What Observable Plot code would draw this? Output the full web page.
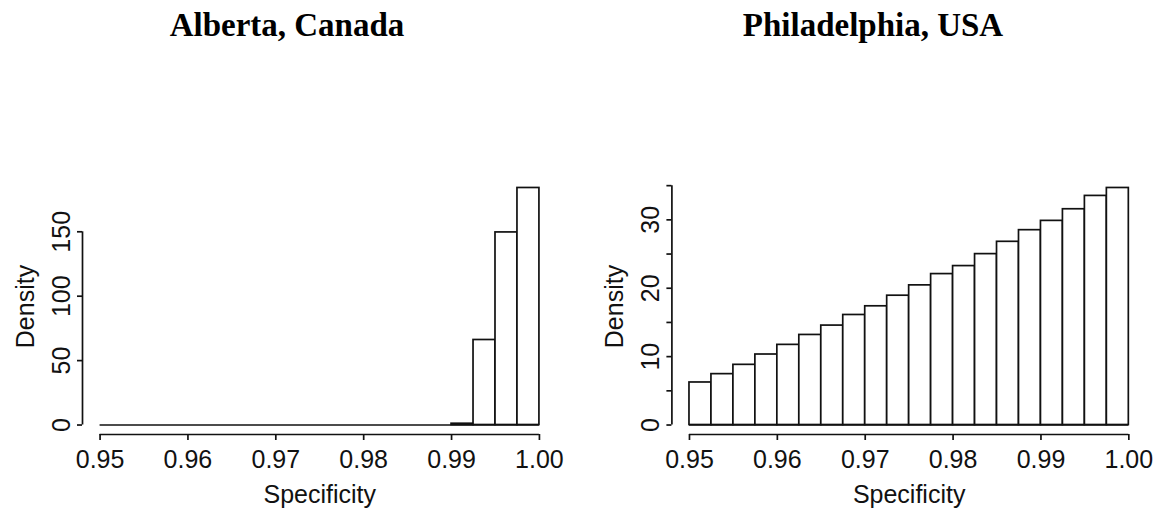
<!DOCTYPE html>
<html>
<head>
<meta charset="utf-8">
<script src="https://cdn.jsdelivr.net/npm/d3@7"></script>
<script src="https://cdn.jsdelivr.net/npm/@observablehq/plot@0.6"></script>
<style>
  html, body { margin: 0; padding: 0; background: #fff; }
  #wrap { position: relative; width: 1156px; height: 510px; overflow: hidden; }
  .title { position: absolute; top: 9px; width: 400px; margin-left: -200px; text-align: center;
           font: bold 33px/33px "Liberation Serif", "Times New Roman", serif; color: #000; }
  .panel { position: absolute; top: 60px; }
</style>
</head>
<body>
<div id="wrap">
  <div class="title" style="left:287px">Alberta, Canada</div>
  <div class="title" style="left:873px">Philadelphia, USA</div>
  <div class="panel" id="p1" style="left:0px"></div>
  <div class="panel" id="p2" style="left:578px"></div>
</div>
<script>
// Histogram bin edges (Specificity)
const binEdges = [0.95, 0.9525, 0.955, 0.9575, 0.96, 0.9625, 0.965, 0.9675, 0.97, 0.9725,
                  0.975, 0.9775, 0.98, 0.9825, 0.985, 0.9875, 0.99, 0.9925, 0.995, 0.9975, 1.00];
// Density per bin
const albertaDensity = [0, 0, 0, 0, 0, 0, 0, 0, 0, 0, 0, 0, 0, 0, 0, 0, 1.0, 66, 149.5, 184];
const philadelphiaDensity = [6.22, 7.44, 8.80, 10.31, 11.72, 13.17, 14.54, 16.09, 17.36, 18.91,
                             20.42, 22.07, 23.24, 24.99, 26.79, 28.49, 29.85, 31.55, 33.50, 34.66];
// Axis ticks
const xTicks = [0.95, 0.96, 0.97, 0.98, 0.99, 1.00];
const albertaYTicks = [0, 50, 100, 150];
const albertaYLabels = [0, 50, 100, 150];
const philadelphiaYTicks = [0, 5, 10, 15, 20, 25, 30, 35];
const philadelphiaYLabels = [0, 10, 20, 30];

const xLabel = "Specificity";
const yLabel = "Density";

function panel({density, yTicks, yLabels, marginLeft, marginRight}) {
  const bins = density.map((d, i) => ({x1: binEdges[i], x2: binEdges[i + 1], y: d}));
  const x0 = binEdges[0], x1 = binEdges[binEdges.length - 1];
  const xpad = 0.04 * (x1 - x0);
  const xDom = [x0 - xpad, x1 + xpad];
  const ymax = d3.max(density);
  const yDom = [-0.04 * ymax, 1.04 * ymax];
  const sw = 1.7;
  const fs = 25;
  return Plot.plot({
    width: 578,
    height: 450,
    marginLeft, marginRight,
    marginTop: 118,
    marginBottom: 76,
    style: {fontFamily: "'Liberation Sans', Arial, Helvetica, sans-serif", background: "#fff", color: "#111"},
    x: {domain: xDom},
    y: {domain: yDom},
    marks: [
      Plot.ruleY([0], {x1: x0, x2: x1, stroke: "#111", strokeWidth: sw}),
      Plot.rectY(bins, {x1: "x1", x2: "x2", y1: 0, y2: "y", fill: "white", stroke: "#111", strokeWidth: sw}),
      Plot.ruleY([yDom[0]], {x1: xTicks[0], x2: xTicks[xTicks.length - 1], stroke: "#111", strokeWidth: sw}),
      Plot.ruleX([xDom[0]], {y1: yTicks[0], y2: yTicks[yTicks.length - 1], stroke: "#111", strokeWidth: sw}),
      Plot.axisX({ticks: xTicks, tickSize: 6, tickPadding: 10, tickFormat: d3.format(".2f"),
                  fontSize: fs, strokeWidth: sw, label: null}),
      Plot.axisY({ticks: yTicks, tickSize: 5, tickFormat: () => "", strokeWidth: sw, label: null}),
      Plot.text(yLabels, {x: () => xDom[0], y: d => d, text: d => String(d), rotate: -90,
                          dx: -21, lineAnchor: "middle", textAnchor: "middle", fontSize: fs, fill: "#111"}),
      Plot.text([yLabel], {text: d => d, frameAnchor: "left", rotate: -90, dx: -57,
                           lineAnchor: "middle", textAnchor: "middle", fontSize: fs, fill: "#111"}),
      Plot.text([xLabel], {text: d => d, frameAnchor: "bottom", dy: 60,
                           lineAnchor: "middle", textAnchor: "middle", fontSize: fs, fill: "#111"})
    ]
  });
}

document.getElementById("p1").append(panel({
  density: albertaDensity, yTicks: albertaYTicks, yLabels: albertaYLabels,
  marginLeft: 82, marginRight: 21.5
}));
document.getElementById("p2").append(panel({
  density: philadelphiaDensity, yTicks: philadelphiaYTicks, yLabels: philadelphiaYLabels,
  marginLeft: 93.4, marginRight: 10.1
}));
</script>
</body>
</html>
